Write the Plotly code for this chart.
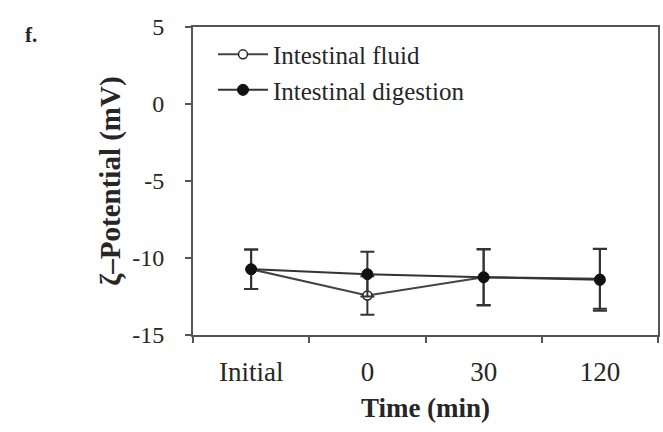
import plotly.graph_objects as go

categories = ["Initial", "0", "30", "120"]
fluid = [-10.73, -12.43, -11.25, -11.35]
fluid_err = [1.28, 1.25, 1.8, 1.95]
digestion = [-10.73, -11.05, -11.25, -11.42]
digestion_err = [1.28, 1.45, 1.83, 2.0]
y_ticks = [5, 0, -5, -10, -15]

FONT = "Liberation Serif"
AX = "#555555"
TXT = "#262626"

fig = go.Figure()
fig.add_trace(go.Scatter(
    x=categories, y=fluid, name="Intestinal fluid", mode="lines+markers",
    line=dict(color="#444444", width=2),
    marker=dict(symbol="circle", size=9, color="white", line=dict(color="#222222", width=1.5)),
    error_y=dict(type="data", array=fluid_err, visible=True, color="#333333", thickness=2, width=7),
))
fig.add_trace(go.Scatter(
    x=categories, y=digestion, name="Intestinal digestion", mode="lines+markers",
    line=dict(color="#333333", width=2),
    marker=dict(symbol="circle", size=11, color="#111111", line=dict(color="#111111", width=1)),
    error_y=dict(type="data", array=digestion_err, visible=True, color="#333333", thickness=2, width=7),
))

fig.update_layout(
    width=663, height=432,
    margin=dict(l=193, r=3, t=27, b=97),
    paper_bgcolor="white", plot_bgcolor="white",
    font=dict(family=FONT, size=24, color=TXT),
    showlegend=True,
    legend=dict(x=0.043, y=0.985, xanchor="left", yanchor="top",
                bgcolor="rgba(0,0,0,0)", font=dict(family=FONT, size=25, color=TXT),
                tracegroupgap=0, itemwidth=50),
    xaxis=dict(
        type="category", categoryorder="array", categoryarray=categories,
        range=[-0.5, 3.5], showline=True, linecolor=AX, linewidth=2, mirror=True,
        ticks="outside", tickson="boundaries", ticklen=6, tickwidth=1.5, tickcolor=AX,
        showgrid=False, zeroline=False, ticklabelstandoff=12,
        tickfont=dict(family=FONT, size=27, color=TXT),
        title=dict(text="<b>Time (min)</b>", font=dict(family=FONT, size=27, color=TXT), standoff=12),
    ),
    yaxis=dict(
        range=[-15, 5], tickvals=y_ticks, ticktext=[str(v) for v in y_ticks],
        showline=True, linecolor=AX, linewidth=2, mirror=True,
        ticks="outside", ticklen=6, tickwidth=1.5, tickcolor=AX,
        showgrid=False, zeroline=False, ticklabelstandoff=16,
        tickfont=dict(family=FONT, size=24, color=TXT),
        title=dict(text="<b>ζ–Potential (mV)</b>", font=dict(family=FONT, size=29, color=TXT), standoff=3),
    ),
    annotations=[dict(text="<b>f.</b>", x=(30 - 193) / 467, y=(335 - 35) / 308,
                      xref="paper", yref="paper", xanchor="center", yanchor="middle",
                      showarrow=False, font=dict(family=FONT, size=21, color=TXT))],
)

fig.write_html("out.html")
